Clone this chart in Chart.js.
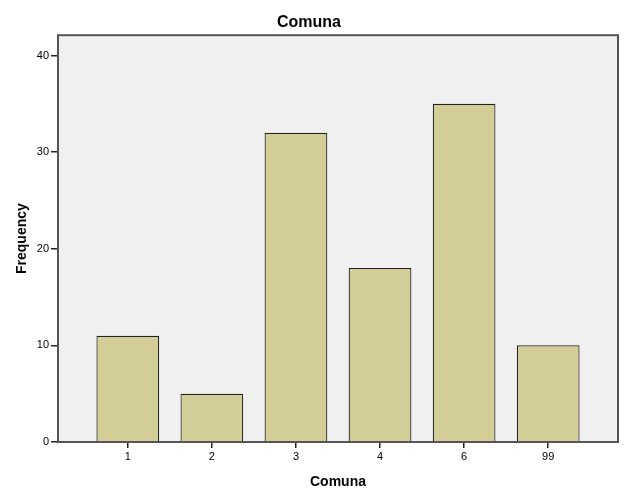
<!DOCTYPE html>
<html>
<head>
<meta charset="utf-8">
<script src="https://cdn.jsdelivr.net/npm/chart.js@4"></script>
<style>
  html, body { margin: 0; padding: 0; background: #fff; }
  #wrap { width: 625px; height: 500px; }
</style>
</head>
<body>
<div id="wrap"><canvas id="chart" width="625" height="500"></canvas></div>
<script>
// Comuna frequency table
const categories = ['1', '2', '3', '4', '6', '99'];
const frequencies = [11, 5, 32, 18, 35, 10];
const yTicks = [0, 10, 20, 30, 40];

const FONT = 'Arial, "Liberation Sans", sans-serif';

/* Plot background and dark frame, SPSS style. */
const framePlugin = {
  id: 'frame',
  beforeDatasetsDraw(chart) {
    const { ctx, chartArea: a } = chart;
    ctx.save();
    ctx.fillStyle = '#f0f0f0';
    ctx.fillRect(a.left, a.top, a.right - a.left, a.bottom - a.top);
    ctx.restore();
  },
  afterDatasetsDraw(chart) {
    const { ctx, chartArea: a } = chart;
    ctx.save();
    ctx.strokeStyle = '#555';
    ctx.lineWidth = 2;
    ctx.strokeRect(a.left, a.top, a.right - a.left, a.bottom - a.top);
    ctx.restore();
  },
};

new Chart(document.getElementById('chart'), {
  type: 'bar',
  data: {
    datasets: [{
      label: 'Frequency',
      data: frequencies.map((v, i) => ({ x: i, y: v })),
      backgroundColor: '#d3ce98',
      borderColor: '#222',
      borderWidth: 1.2,
      categoryPercentage: 1,
      barPercentage: 0.746,
    }],
  },
  options: {
    responsive: false,
    animation: false,
    layout: { padding: { left: 0, right: 7, top: 0, bottom: 0 } },
    plugins: {
      legend: { display: false },
      tooltip: { enabled: false },
      title: {
        display: true,
        text: 'Comuna',
        color: '#000',
        font: { family: FONT, size: 16, weight: 'bold' },
        padding: { top: 13, bottom: 3 },
      },
    },
    scales: {
      x: {
        type: 'linear',
        offset: false,
        min: -0.83,
        max: 5.83,
        afterBuildTicks: (s) => {
          s.ticks = categories.map((_, i) => ({ value: i }));
        },
        afterFit: (s) => { s.height = 58; },
        ticks: {
          color: '#000',
          font: { family: FONT, size: 11 },
          padding: 2,
          autoSkip: false,
          maxRotation: 0,
          callback: (v) => categories[v],
        },
        grid: { offset: false, drawOnChartArea: false, drawTicks: true, tickLength: 6, color: '#222', lineWidth: 1.5 },
        border: { display: false },
        title: {
          display: true,
          text: 'Comuna',
          color: '#000',
          font: { family: FONT, size: 14, weight: 'bold' },
          padding: { top: 4, bottom: 9 },
        },
      },
      y: {
        min: 0,
        max: 42.1,
        afterBuildTicks: (s) => {
          s.ticks = yTicks.map((v) => ({ value: v }));
        },
        afterFit: (s) => { s.width = 58; },
        ticks: {
          color: '#000',
          font: { family: FONT, size: 11 },
          padding: 2,
        },
        grid: { drawOnChartArea: false, drawTicks: true, tickLength: 7, color: '#222', lineWidth: 1.5 },
        border: { display: false },
        title: {
          display: true,
          text: 'Frequency',
          color: '#000',
          font: { family: FONT, size: 14, weight: 'bold' },
          padding: { top: 14, bottom: 0 },
        },
      },
    },
  },
  plugins: [framePlugin],
});
</script>
</body>
</html>
